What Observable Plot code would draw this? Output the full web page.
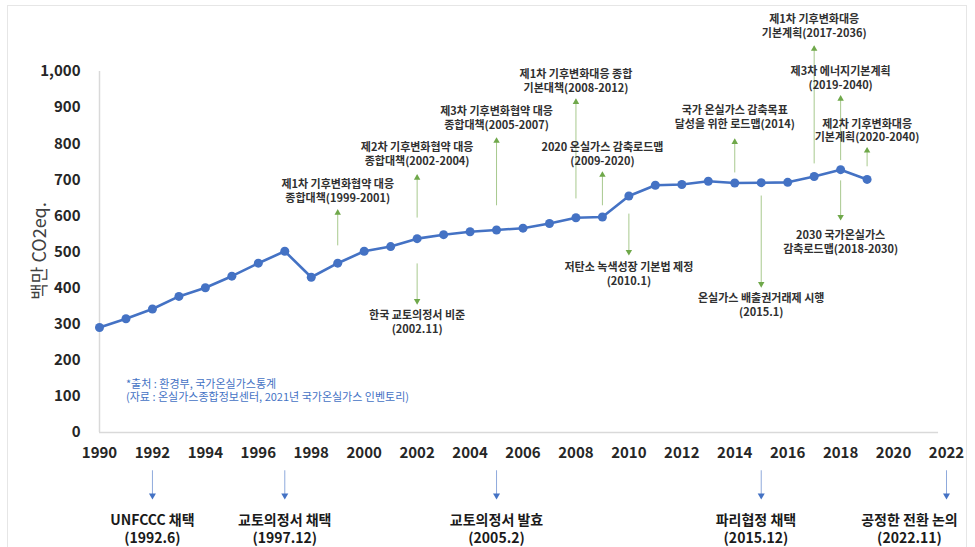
<!DOCTYPE html>
<html><head><meta charset="utf-8">
<script src="https://cdn.jsdelivr.net/npm/d3@7"></script>
<script src="https://cdn.jsdelivr.net/npm/@observablehq/plot@0.6"></script>
<style>
body{margin:0;background:#fff;}
#wrap{position:relative;width:975px;height:547px;overflow:hidden;}
#border{position:absolute;left:7px;top:5px;width:958px;height:600px;border:1px solid #e6e6e6;}
#wrap svg{position:absolute;left:0;top:0;}
</style></head><body><div id="wrap"><div id="border"></div></div>
<script>
// Emission series (백만 CO2eq.)
const years = [1990,1991,1992,1993,1994,1995,1996,1997,1998,1999,2000,2001,2002,2003,2004,2005,2006,2007,2008,2009,2010,2011,2012,2013,2014,2015,2016,2017,2018,2019];
const emissions = [291,315,342,377,401,433,469,502,430,469,502,515,537,548,556,561,566,579,595,597,655,685,687,696,691,692,693,709,728,701];

// Axis ticks
const xTicks = [1990,1992,1994,1996,1998,2000,2002,2004,2006,2008,2010,2012,2014,2016,2018,2020,2022];
const yTicks = [0,100,200,300,400,500,600,700,800,900,1000];

// Policy annotations pointing up (year, arrow from, arrow tip, label level)
const upYears = [1999,2002,2005,2008,2009,2014,2017,2018,2019];
const upFrom  = [517,594,628,647,628,719,744,753,736];
const upTo    = [614,711,813,921,719,810,1068,930,786];
const upLabelAt = [671,772,873,974,773,875,1128,984,838];
const upLabels = [
  "제1차 기후변화협약 대응\n종합대책(1999-2001)",
  "제2차 기후변화협약 대응\n종합대책(2002-2004)",
  "제3차 기후변화협약 대응\n종합대책(2005-2007)",
  "제1차 기후변화대응 종합\n기본대책(2008-2012)",
  "2020 온실가스 감축로드맵\n(2009-2020)",
  "국가 온실가스 감축목표\n달성을 위한 로드맵(2014)",
  "제1차 기후변화대응\n기본계획(2017-2036)",
  "제3차 에너지기본계획\n(2019-2040)",
  "제2차 기후변화대응\n기본계획(2020-2040)"
];

// Policy annotations pointing down
const downYears = [2002,2010,2015,2018];
const downFrom  = [467,605,655,697];
const downTo    = [359,495,406,592];
const downLabelAt = [308,440,355,528];
const downLabels = [
  "한국 교토의정서 비준\n(2002.11)",
  "저탄소 녹색성장 기본법 제정\n(2010.1)",
  "온실가스 배출권거래제 시행\n(2015.1)",
  "2030 국가온실가스\n감축로드맵(2018-2030)"
];

// International events below the time axis
const eventYears = [1992,1997,2005,2015,2022];
const eventLabelYears = [1992,1997,2005,2014.8,2020.6];
const eventLabels = ["UNFCCC 채택\n(1992.6)","교토의정서 채택\n(1997.12)","교토의정서 발효\n(2005.2)","파리협정 채택\n(2015.12)","공정한 전환 논의\n(2022.11)"];

const sourceLines = ["*출처 : 환경부, 국가온실가스통계","(자료 : 온실가스종합정보센터, 2021년 국가온실가스 인벤토리)"];
const yTitle = "백만 CO2eq.";

const series = years.map((y,i)=>({year:y, value:emissions[i]}));
const ups = upYears.map((y,i)=>({year:y, from:upFrom[i], to:upTo[i], at:upLabelAt[i], label:upLabels[i]}));
const downs = downYears.map((y,i)=>({year:y, from:downFrom[i], to:downTo[i], at:downLabelAt[i], label:downLabels[i]}));
const events = eventYears.map((y,i)=>({year:y, labelYear:eventLabelYears[i], label:eventLabels[i]}));

const blue = "#4472c4";
const greenShaft = "#a8c98e";
const greenHead = "#6fa84a";
const font = "'Noto Sans CJK KR', 'Noto Sans', sans-serif";

const chart = Plot.plot({
  width: 975, height: 547,
  marginLeft: 99, marginRight: 29, marginTop: 71, marginBottom: 115,
  x: {domain: [1990, 2022]},
  y: {domain: [0, 1000]},
  style: {fontFamily: font, background: "transparent", color: "#262626"},
  marks: [
    Plot.ruleX([1990], {y1: 0, y2: 1000, stroke: "#d9d9d9", strokeWidth: 1.5}),
    Plot.ruleY([0], {x1: 1990, x2: 2021.7, stroke: "#d9d9d9", strokeWidth: 1.5}),
    Plot.axisX({ticks: xTicks, tickFormat: d => String(d), tickSize: 0, tickPadding: 15, label: null, fontSize: 15, fontWeight: "bold", fill: "#262626"}),
    Plot.axisY({ticks: yTicks, tickFormat: d3.format(","), tickSize: 0, tickPadding: 19, label: null, fontSize: 15, fontWeight: "bold", fill: "#262626"}),
    Plot.text([yTitle], {frameAnchor: "left", dx: -59, dy: -1, rotate: -90, text: d => d, fontSize: 18, fill: "#404040", textAnchor: "middle"}),
    // source note
    Plot.text([sourceLines.join("\n")], {x: () => 1991, y: () => 117, text: d => d, textAnchor: "start", fontSize: 11, fill: blue, lineHeight: 1.2}),
    // up annotations
    Plot.ruleX(ups, {x: "year", y1: "from", y2: "to", stroke: greenShaft, strokeWidth: 1}),
    Plot.dot(ups, {x: "year", y: "to", symbol: "triangle", r: 2.4, fill: greenHead, stroke: "none", dy: 2}),
    Plot.text(ups, {x: "year", y: "at", text: "label", fontSize: 11, fontWeight: 600, fill: "#303030", lineHeight: 1.25}),
    // down annotations
    Plot.ruleX(downs, {x: "year", y1: "from", y2: "to", stroke: greenShaft, strokeWidth: 1}),
    Plot.dot(downs, {x: "year", y: "to", symbol: "triangle", r: 2.4, rotate: 180, fill: greenHead, stroke: "none", dy: -2}),
    Plot.text(downs, {x: "year", y: "at", text: "label", fontSize: 11, fontWeight: 600, fill: "#303030", lineHeight: 1.25}),
    // emissions
    Plot.line(series, {x: "year", y: "value", stroke: blue, strokeWidth: 2.6}),
    Plot.dot(series, {x: "year", y: "value", r: 4.5, fill: blue, stroke: "none"}),
    // events under axis
    Plot.ruleX(events, {x: "year", y1: () => -106, y2: () => -180, stroke: "#8faadc", strokeWidth: 1}),
    Plot.dot(events, {x: "year", y: () => -180, symbol: "triangle", r: 2.6, rotate: 180, fill: blue, stroke: "none", dy: -2}),
    Plot.text(events, {x: "labelYear", y: () => -264, text: "label", fontSize: 14, fontWeight: "bold", fill: "#1a1a1a", lineHeight: 1.3})
  ]
});
document.getElementById("wrap").appendChild(chart);
</script>
</body></html>
